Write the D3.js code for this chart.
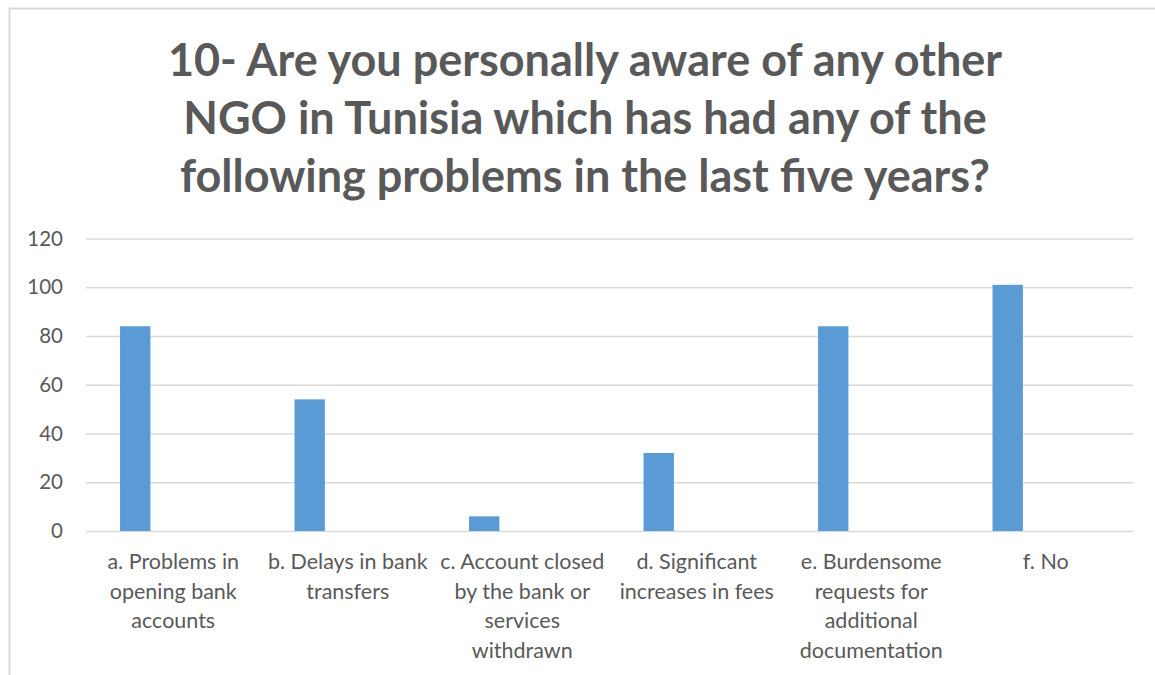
<!DOCTYPE html>
<html>
<head>
<meta charset="utf-8">
<script src="https://cdn.jsdelivr.net/npm/d3@7"></script>
<style>
  html, body { margin: 0; padding: 0; background: #fff; }
  svg { display: block; }
</style>
</head>
<body>
<svg id="chart" width="1155" height="675"></svg>
<script>
// Survey question and responses
const titleLines = [
  "10- Are you personally aware of any other",
  "NGO in Tunisia which has had any of the",
  "following problems in the last five years?"
];
const categories = [
  "a. Problems in\nopening bank\naccounts",
  "b. Delays in bank\ntransfers",
  "c. Account closed\nby the bank or\nservices\nwithdrawn",
  "d. Significant\nincreases in fees",
  "e. Burdensome\nrequests for\nadditional\ndocumentation",
  "f. No"
];
const counts = [84, 54, 6, 32, 84, 101];
const yTicks = [0, 20, 40, 60, 80, 100, 120];

const svg = d3.select("#chart");
const W = 1155, H = 675;
const textColor = "#595959";
const gridColor = "#d9d9d9";
const barColor = "#5b9bd5";
const font = "Lato, 'Open Sans', sans-serif";

// Chart frame
svg.append("rect")
  .attr("x", 9.5).attr("y", 8.5)
  .attr("width", W).attr("height", H)
  .attr("fill", "#fff")
  .attr("stroke", gridColor).attr("stroke-width", 2);

// Plot area
const plot = { left: 86, right: 1133, top: 238.5, bottom: 531 };

const x = d3.scaleBand()
  .domain(categories)
  .range([plot.left, plot.right])
  .padding(0);

const y = d3.scaleLinear()
  .domain([0, 120])
  .range([plot.bottom, plot.top]);

// Title
svg.append("g")
  .selectAll("text")
  .data(titleLines)
  .join("text")
  .attr("x", 585)
  .attr("y", (d, i) => 76 + i * 58)
  .attr("text-anchor", "middle")
  .attr("font-family", font)
  .attr("font-weight", 700)
  .attr("font-size", 45)
  .attr("fill", textColor)
  .text(d => d);

// Horizontal gridlines and y-axis labels
const yAxis = d3.axisLeft(y)
  .tickValues(yTicks)
  .tickSize(-(plot.right - plot.left))
  .tickPadding(23)
  .tickFormat(d3.format("d"));

const yg = svg.append("g")
  .attr("transform", `translate(${plot.left},0)`)
  .call(yAxis);
yg.select(".domain").remove();
yg.selectAll(".tick line")
  .attr("stroke", gridColor)
  .attr("stroke-width", 1.5);
yg.selectAll(".tick text")
  .attr("fill", textColor)
  .attr("font-family", font)
  .attr("font-size", 20.5);

// Bars: the bar sits left of the category centre
const bw = x.bandwidth();
const barOffset = bw * 0.195;
const barWidth = bw * 0.174;

svg.append("g")
  .selectAll("rect")
  .data(categories.map((c, i) => ({ c, v: counts[i] })))
  .join("rect")
  .attr("x", d => x(d.c) + barOffset)
  .attr("width", barWidth)
  .attr("y", d => y(d.v))
  .attr("height", d => y(0) - y(d.v))
  .attr("fill", barColor);

// Category labels, wrapped across lines
const xg = svg.append("g");
categories.forEach(c => {
  const t = xg.append("text")
    .attr("text-anchor", "middle")
    .attr("font-family", font)
    .attr("font-size", 21.5)
    .attr("fill", textColor);
  c.split("\n").forEach((line, i) => {
    t.append("tspan")
      .attr("x", x(c) + bw / 2)
      .attr("y", 569 + i * 29.5)
      .text(line);
  });
});
</script>
</body>
</html>
